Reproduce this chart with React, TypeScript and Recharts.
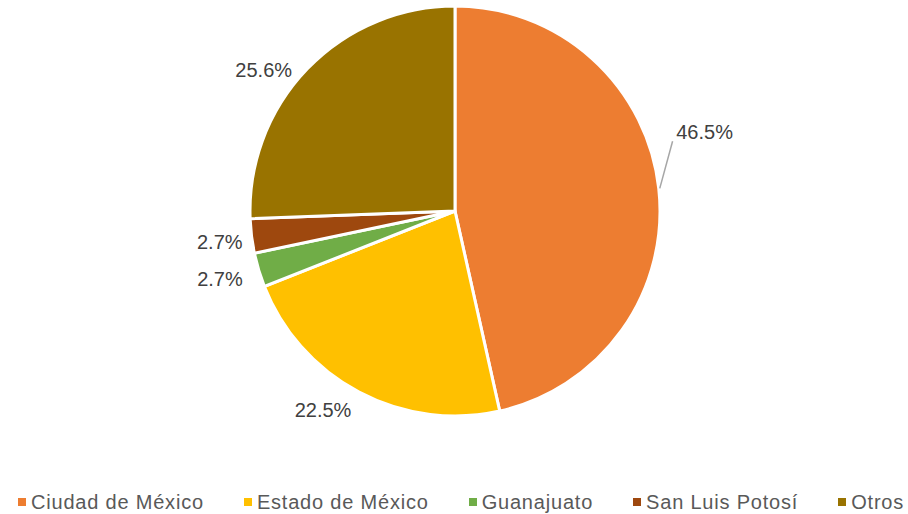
import React from 'react';
import { PieChart, Pie, Cell } from 'recharts';

const states = ['Ciudad de México', 'Estado de México', 'Guanajuato', 'San Luis Potosí', 'Otros'];
const shares = [46.5, 22.5, 2.7, 2.7, 25.6];
const colors = ['#ED7D31', '#FFC000', '#70AD47', '#9E480E', '#997300'];

const data = states.map((name, i) => ({ name, value: shares[i] }));

// nudges for Excel-style "best fit" label placement
const labelShift = [
  [16, -53],
  [-22, -9],
  [-10, 0],
  [-2, 2],
  [-22, 22],
];

const RAD = Math.PI / 180;

const renderLabel = (props: any) => {
  const { cx, cy, midAngle, outerRadius, index, value } = props;
  const r = outerRadius + 30;
  const x = cx + r * Math.cos(-midAngle * RAD) + labelShift[index][0];
  const y = cy + r * Math.sin(-midAngle * RAD) + labelShift[index][1];
  const text = (
    <text
      x={x}
      y={y}
      textAnchor="middle"
      dominantBaseline="central"
      fill="#404040"
      fontSize={20}
      fontFamily="Liberation Sans, Arial, sans-serif"
    >
      {value.toFixed(1)}%
    </text>
  );
  if (index !== 0) return <g key={index}>{text}</g>;
  // leader line for the big slice
  const sx = cx + (outerRadius + 1) * Math.cos(-midAngle * RAD);
  const sy = cy + (outerRadius + 1) * Math.sin(-midAngle * RAD);
  return (
    <g key={index}>
      <line x1={sx} y1={sy} x2={x - 32} y2={y + 9} stroke="#A6A6A6" strokeWidth={1.5} />
      {text}
    </g>
  );
};

const App: React.FC = () => {
  return (
    <div style={{ position: 'absolute', left: 0, top: 0, width: 908, height: 514, background: '#fff', overflow: 'hidden' }}>
      <PieChart width={908} height={470} margin={{ top: 0, right: 0, bottom: 0, left: 0 }}>
        <Pie
          data={data}
          dataKey="value"
          nameKey="name"
          cx={455}
          cy={211}
          outerRadius={205}
          startAngle={90}
          endAngle={-270}
          stroke="#fff"
          strokeWidth={3}
          label={renderLabel}
          labelLine={false}
          isAnimationActive={false}
        >
          {data.map((d, i) => (
            <Cell key={d.name} fill={colors[i]} />
          ))}
        </Pie>
      </PieChart>
      <div
        style={{
          position: 'absolute',
          top: 490,
          left: 18,
          display: 'flex',
          whiteSpace: 'nowrap',
          fontFamily: 'Liberation Sans, Arial, sans-serif',
          fontSize: 20,
          letterSpacing: 0.8,
          color: '#595959',
          lineHeight: '24px',
        }}
      >
        {states.map((s, i) => (
          <div
            key={s}
            style={{ display: 'flex', alignItems: 'center', marginRight: i < states.length - 1 ? 40 : 0 }}
          >
            <span style={{ width: 8, height: 8, background: colors[i], marginRight: 5, display: 'inline-block' }} />
            <span>{s}</span>
          </div>
        ))}
      </div>
    </div>
  );
};

export default App;
